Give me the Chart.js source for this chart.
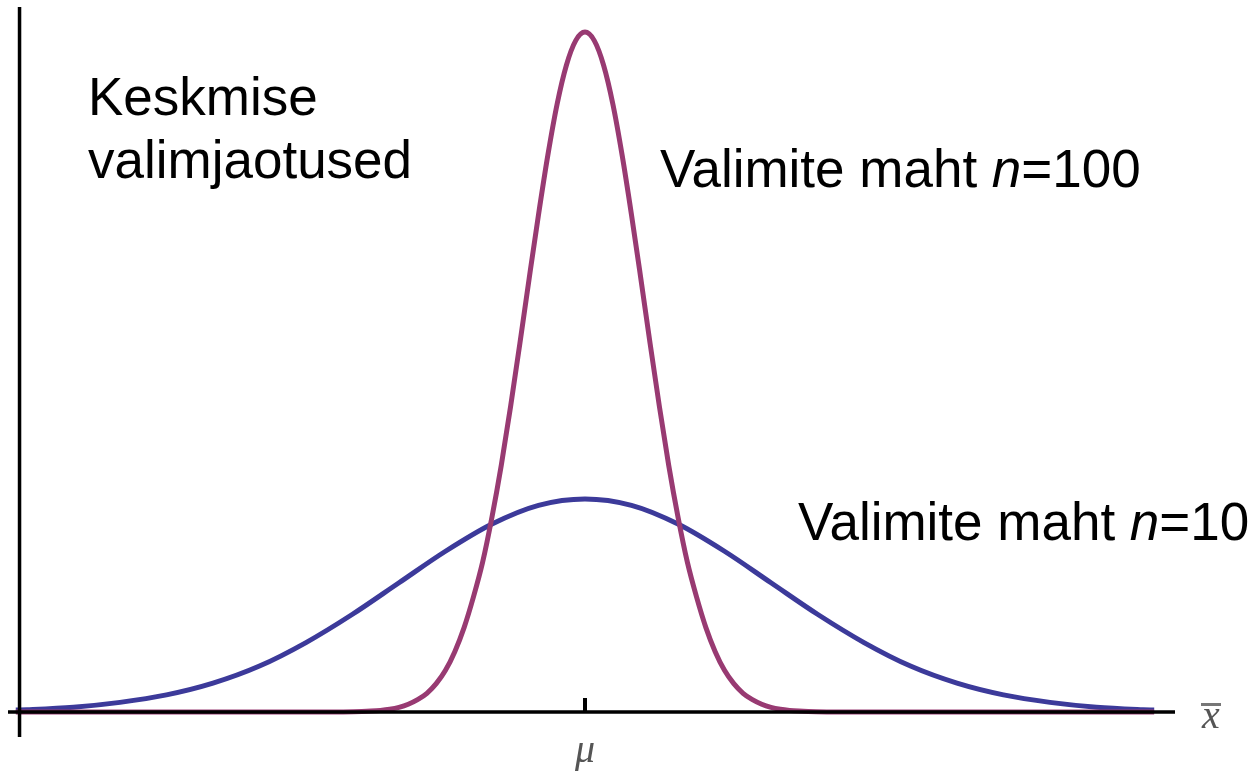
<!DOCTYPE html>
<html>
<head>
<meta charset="utf-8">
<script src="https://cdn.jsdelivr.net/npm/chart.js@4/dist/chart.umd.min.js"></script>
<style>
	html, body { margin: 0; padding: 0; background: #fff; }
	#wrap { width: 1253px; height: 774px; }
</style>
</head>
<body>
<div id="wrap"><canvas id="jaotused"></canvas></div>
<script>
//Valimi keskmise x-väärtused (sigma ühikutes, mu = 0)
const xPink = [-3.06, -2.0, -1.4, -1.3, -1.2, -1.15, -1.1, -1.05, -1.0, -0.95, -0.9, -0.85, -0.8, -0.75, -0.7, -0.65, -0.6, -0.55, -0.5, -0.45, -0.4, -0.35, -0.3, -0.25, -0.2, -0.15, -0.1, -0.05,
	0, 0.05, 0.1, 0.15, 0.2, 0.25, 0.3, 0.35, 0.4, 0.45, 0.5, 0.55, 0.6, 0.65, 0.7, 0.75, 0.8, 0.85, 0.9, 0.95, 1.0, 1.05, 1.1, 1.15, 1.2, 1.3, 1.4, 2.0, 3.06];
//n=100 tihedus
const yPink = [0, 0, 0, 0.0002, 0.0009, 0.0017, 0.003, 0.0052, 0.0088, 0.0145, 0.023, 0.035, 0.053, 0.078, 0.113, 0.158, 0.215, 0.281, 0.365, 0.462, 0.572, 0.69, 0.812, 0.931, 1.042, 1.138, 1.211, 1.257,
	1.273, 1.257, 1.211, 1.138, 1.042, 0.931, 0.812, 0.69, 0.572, 0.462, 0.365, 0.281, 0.215, 0.158, 0.113, 0.078, 0.053, 0.035, 0.023, 0.0145, 0.0088, 0.0052, 0.003, 0.0017, 0.0009, 0.0002, 0, 0, 0];

const xBlue = [-3.06, -3.0, -2.75, -2.5, -2.25, -2.0, -1.75, -1.5, -1.25, -1.0, -0.75, -0.5, -0.25,
	0, 0.25, 0.5, 0.75, 1.0, 1.25, 1.5, 1.75, 2.0, 2.25, 2.5, 2.75, 3.0, 3.06];
//n=10 tihedus
const yBlue = [0.0037, 0.0044, 0.009, 0.018, 0.032, 0.054, 0.086, 0.13, 0.183, 0.242, 0.301, 0.352, 0.387,
	0.399, 0.387, 0.352, 0.301, 0.242, 0.183, 0.13, 0.086, 0.054, 0.032, 0.018, 0.009, 0.0044, 0.0037];

const xTicks = [0];
const xTickLabels = ['\u03bc'];

function points(xs, ys) {
	return xs.map((x, i) => ({ x: x, y: ys[i] }));
}

//Teljed, mu tähis ja tekstid
const axesPlugin = {
	id: 'axesPlugin',
	afterDatasetsDraw(chart) {
		const ctx = chart.ctx;
		const area = chart.chartArea;
		const sx = chart.scales.x;
		const sy = chart.scales.y;
		const y0 = sy.getPixelForValue(0);
		const xAxis = sx.getPixelForValue(-3.04);

		ctx.save();
		ctx.strokeStyle = '#000';
		ctx.lineWidth = 3.5;
		ctx.beginPath();
		ctx.moveTo(area.left, y0);
		ctx.lineTo(area.right, y0);
		ctx.moveTo(xAxis, area.top);
		ctx.lineTo(xAxis, area.bottom);
		ctx.stroke();

		ctx.lineWidth = 4;
		ctx.fillStyle = '#555';
		ctx.font = 'italic 40px "Liberation Serif"';
		ctx.textAlign = 'center';
		ctx.textBaseline = 'alphabetic';
		xTicks.forEach((t, i) => {
			const px = sx.getPixelForValue(t);
			ctx.beginPath();
			ctx.moveTo(px, y0 - 14);
			ctx.lineTo(px, y0);
			ctx.stroke();
			ctx.fillText(xTickLabels[i], px, 762);
		});

		//telje nimi x-kriips
		ctx.fillText('x', 1211, 728);
		ctx.fillStyle = '#777';
		ctx.fillRect(1201, 703, 20, 3);

		ctx.fillStyle = '#000';
		ctx.textAlign = 'left';
		ctx.font = '53px "Liberation Sans"';
		ctx.fillText('Keskmise', 88, 115);
		ctx.fillText('valimjaotused', 88, 178);

		const label = (x, y, tail) => {
			ctx.font = '53px "Liberation Sans"';
			const a = 'Valimite maht ';
			ctx.fillText(a, x, y);
			x += ctx.measureText(a).width;
			ctx.font = 'italic 53px "Liberation Sans"';
			ctx.fillText('n', x, y);
			x += ctx.measureText('n').width;
			ctx.font = '53px "Liberation Sans"';
			ctx.fillText(tail, x, y);
		};
		label(660, 187, '=100');
		label(798, 540, '=10');
		ctx.restore();
	}
};

const canvas = document.getElementById('jaotused');
const chart = new Chart(canvas.getContext('2d'), {
	type: 'line',
	data: {
		datasets: [
			{
				label: 'n=100',
				data: points(xPink, yPink),
				borderColor: '#983a72',
				borderWidth: 5,
				pointRadius: 0,
				cubicInterpolationMode: 'monotone',
				fill: false
			},
			{
				label: 'n=10',
				data: points(xBlue, yBlue),
				borderColor: '#3c3a9a',
				borderWidth: 5,
				pointRadius: 0,
				cubicInterpolationMode: 'monotone',
				fill: false
			}
		]
	},
	options: {
		responsive: true,
		maintainAspectRatio: false,
		animation: false,
		layout: { padding: { left: 8, right: 78, top: 7, bottom: 37 } },
		plugins: { legend: { display: false }, tooltip: { enabled: false } },
		scales: {
			x: { type: 'linear', min: -3.102, max: 3.172, display: false },
			y: { type: 'linear', min: -0.0468, max: 1.32, display: false }
		}
	},
	plugins: [axesPlugin]
});
</script>
</body>
</html>
